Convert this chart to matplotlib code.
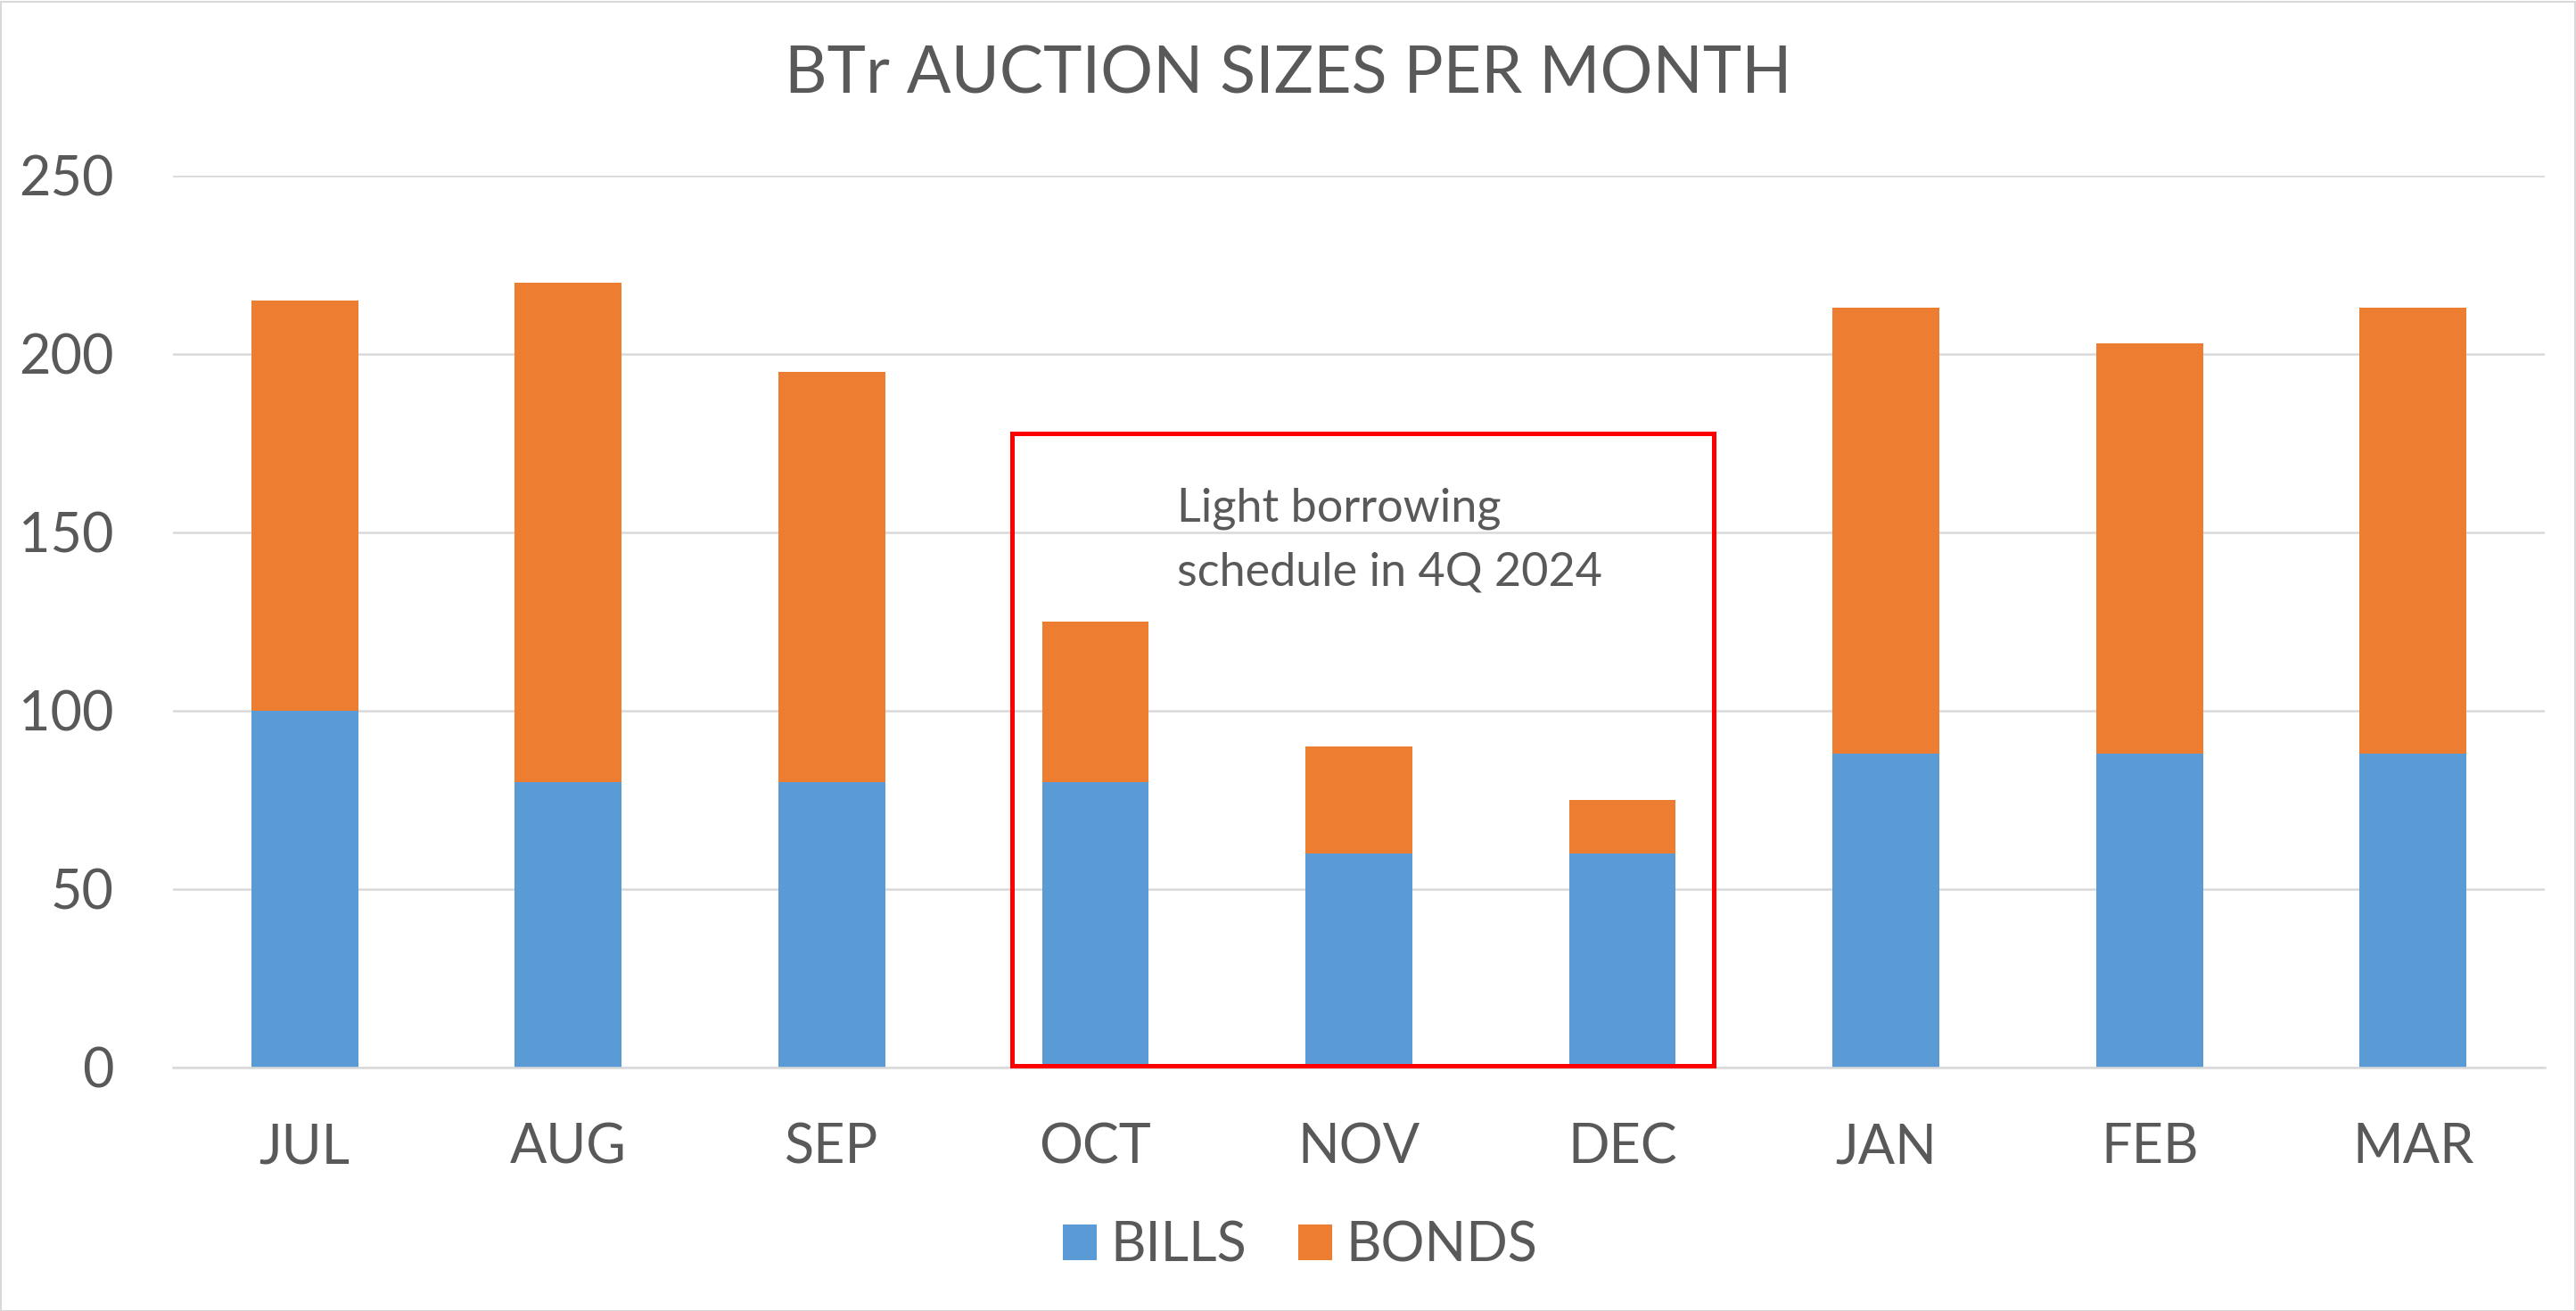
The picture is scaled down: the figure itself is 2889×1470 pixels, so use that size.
import matplotlib
matplotlib.use("Agg")
import matplotlib.pyplot as plt
from matplotlib.patches import Rectangle, Patch
import numpy as np

months = ["JUL", "AUG", "SEP", "OCT", "NOV", "DEC", "JAN", "FEB", "MAR"]
bills = [100, 80, 80, 80, 60, 60, 88, 88, 88]
bonds = [115, 140, 115, 45, 30, 15, 125, 115, 125]
yticks = [0, 50, 100, 150, 200, 250]
title = "BTr AUCTION SIZES PER MONTH"
note_lines = ["Light borrowing", "schedule in 4Q 2024"]

BLUE = "#5B9BD5"
ORANGE = "#ED7D31"
TXT = "#595959"
GRID = "#D9D9D9"

plt.rcParams['font.family'] = ['Lato', 'DejaVu Sans']

W, H = 2889, 1470
fig = plt.figure(figsize=(W / 100, H / 100), dpi=100)
fig.patch.set_facecolor("white")

left, right, bottom, top = 194, 2854, 1197, 197
ax = fig.add_axes([left / W, 1 - bottom / H, (right - left) / W, (bottom - top) / H])

x = np.arange(len(months))
bw = 0.405
ax.bar(x, bills, bw, color=BLUE, label="BILLS", zorder=2)
ax.bar(x, bonds, bw, bottom=bills, color=ORANGE, label="BONDS", zorder=2)

ax.set_xlim(-0.5, len(months) - 0.5)
ax.set_ylim(0, 250)
ax.set_yticks(yticks)
ax.set_xticks(x)
ax.set_xticklabels(months)
ax.yaxis.grid(True, color=GRID, linewidth=1.8, zorder=0)
ax.set_axisbelow(True)
for s in ["top", "right", "left"]:
    ax.spines[s].set_visible(False)
ax.spines["bottom"].set_color(GRID)
ax.spines["bottom"].set_linewidth(1.8)
ax.tick_params(axis="both", length=0, labelsize=44, colors=TXT)
ax.tick_params(axis="y", pad=48)
ax.tick_params(axis="x", pad=44)

# title
fig.text(1445 / W, 1 - 84 / H, title, ha="center", va="center", fontsize=53, color=TXT)

# annotation box
ax.add_patch(Rectangle((2.685, 0.4), 5.346 - 2.685, 177.8 - 0.4, fill=False,
                       edgecolor="#FF0000", linewidth=3.6, zorder=3, clip_on=False))
ax.text(3.31, 153, note_lines[0], ha="left", va="baseline", fontsize=37.5, color=TXT, zorder=4)
ax.text(3.31, 135, note_lines[1], ha="left", va="baseline", fontsize=37.5, color=TXT, zorder=4)

# legend
handles = [Patch(facecolor=BLUE, label="BILLS"), Patch(facecolor=ORANGE, label="BONDS")]
fig.legend(handles=handles, loc="center", bbox_to_anchor=(1458 / W, 1 - 1397 / H), ncol=2,
           frameon=False, fontsize=44, handlelength=0.62, handleheight=0.62,
           handletextpad=0.25, columnspacing=0.95, labelcolor=TXT)

# chart border
fig.add_artist(Rectangle((0.5 / W, 0.5 / H), (W - 2) / W, (H - 2) / H, transform=fig.transFigure,
                         fill=False, edgecolor="#D9D9D9", linewidth=1.5))

fig.savefig("out.png", dpi=100, facecolor="white")
